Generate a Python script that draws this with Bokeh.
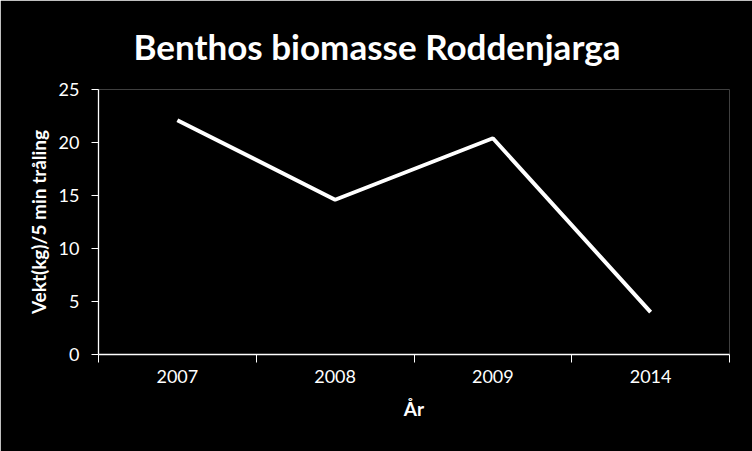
from bokeh.plotting import figure
from bokeh.models import Range1d, LinearAxis, FixedTicker
from bokeh.embed import file_html
from bokeh.resources import INLINE

# Data
years = ["2007", "2008", "2009", "2014"]
biomass = [22.1, 14.6, 20.4, 4.0]
y_ticks = [0, 5, 10, 15, 20, 25]

title_text = "Benthos biomasse Roddenjarga"
y_label = "Vekt(kg)/5 min tråling"
x_label = "År"

FONT = "Lato"

# category slots: each year occupies one unit, centred at i + 0.5
n = len(years)
centres = [i + 0.5 for i in range(n)]
edges = list(range(n + 1))

p = figure(width=752, height=451, x_range=Range1d(0, n),
           y_range=Range1d(0, 25), output_backend="svg", toolbar_location=None,
           x_axis_location=None, y_axis_location=None,
           min_border_left=98, min_border_right=23, min_border_top=88,
           min_border_bottom=97)

p.background_fill_color = "black"
p.border_fill_color = "black"
p.outline_line_color = None
p.xgrid.grid_line_color = None
p.ygrid.grid_line_color = None

# Title
p.title.text = title_text
p.title.text_color = "white"
p.title.text_font = FONT
p.title.text_font_style = "bold"
p.title.text_font_size = "35px"
p.title.align = "left"
p.title.offset = 35
p.title.standoff = 45

# Y axis
yax = LinearAxis(ticker=FixedTicker(ticks=y_ticks))
yax.axis_line_color = "white"
yax.axis_line_width = 1.3
yax.major_tick_line_color = "white"
yax.major_tick_out = 7
yax.major_tick_in = 0
yax.minor_tick_line_color = None
yax.major_label_text_color = "white"
yax.major_label_text_font = FONT
yax.major_label_text_font_size = "18px"
yax.major_label_standoff = 12
yax.axis_label = y_label
yax.axis_label_text_color = "white"
yax.axis_label_text_font = FONT
yax.axis_label_text_font_style = "bold"
yax.axis_label_text_font_size = "19px"
yax.axis_label_standoff = 6
p.add_layout(yax, "left")

# X axis: labels at slot centres, tick marks at slot edges
xax = LinearAxis(ticker=FixedTicker(ticks=centres, minor_ticks=edges))
xax.major_label_overrides = {c: y for c, y in zip(centres, years)}
xax.axis_line_color = "white"
xax.axis_line_width = 1.3
xax.major_tick_line_color = None
xax.major_tick_out = 8
xax.major_tick_in = 0
xax.minor_tick_line_color = "white"
xax.minor_tick_out = 8
xax.minor_tick_in = 0
xax.major_label_text_color = "white"
xax.major_label_text_font = FONT
xax.major_label_text_font_size = "18px"
xax.major_label_standoff = 7
xax.axis_label = x_label
xax.axis_label_text_color = "white"
xax.axis_label_text_font = FONT
xax.axis_label_text_font_style = "bold"
xax.axis_label_text_font_size = "19px"
xax.axis_label_standoff = 11
p.add_layout(xax, "below")

p.line(x=centres, y=biomass, line_color="white", line_width=4)

html = file_html(p, INLINE)
html = html.replace("<body>", '<body style="background:black;margin:0;overflow:hidden">', 1)
open("out.html", "w").write(html)
